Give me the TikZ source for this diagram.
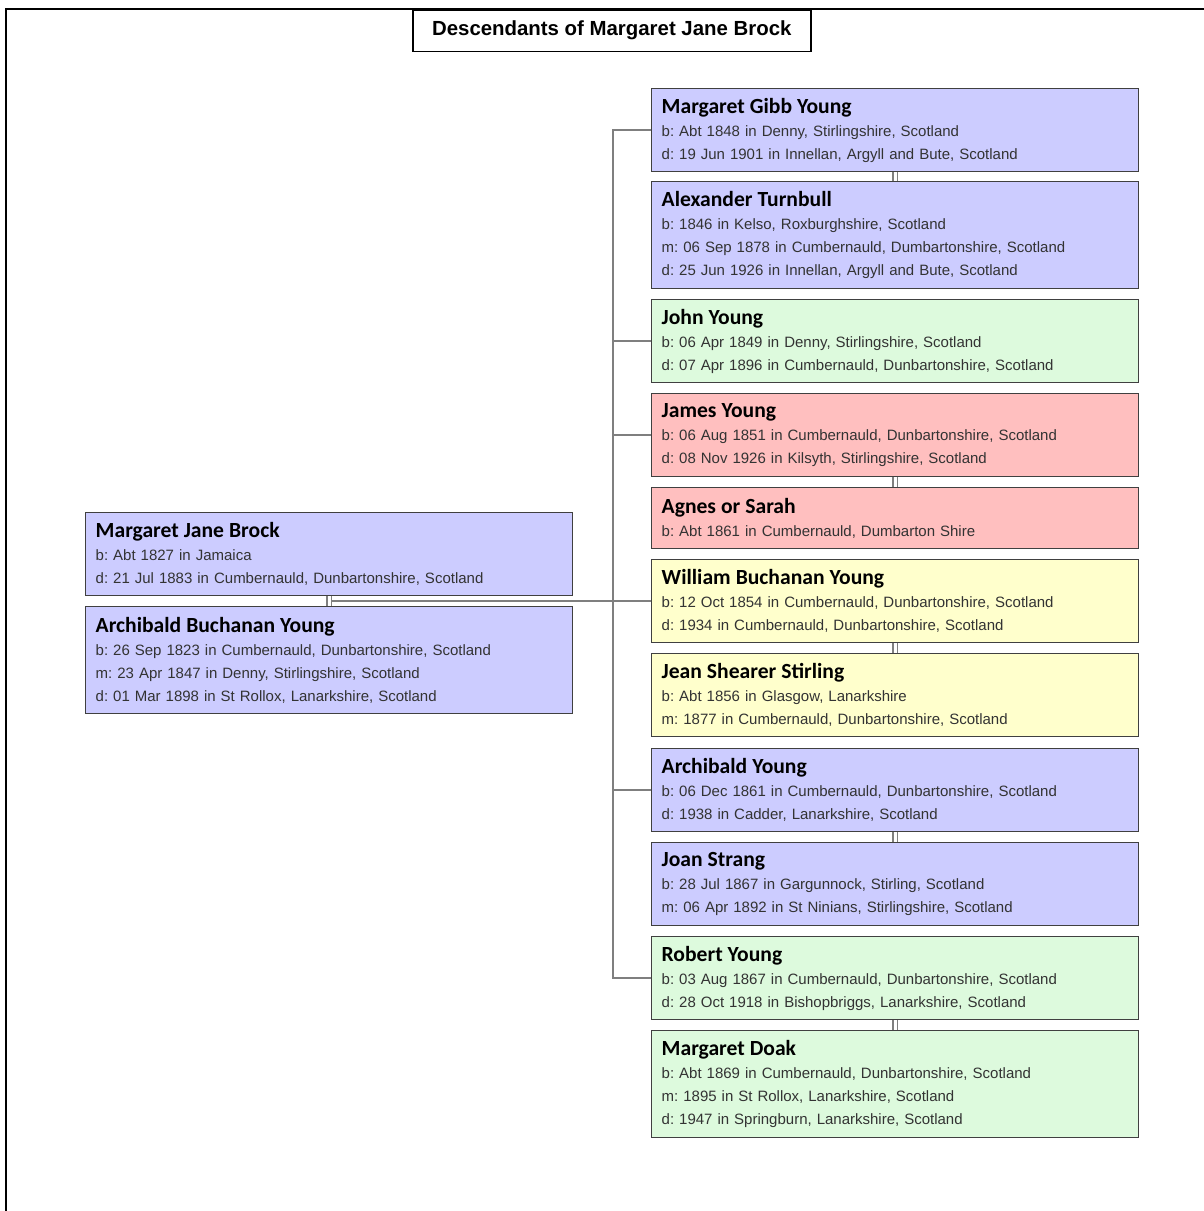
\documentclass[tikz,border=0pt]{standalone}
\usepackage{fontspec}
\setmainfont{Liberation Sans}
\newfontfamily\namefont{Carlito}
\usetikzlibrary{calc}
\definecolor{blu}{HTML}{CCCCFF}
\definecolor{grn}{HTML}{DDFADD}
\definecolor{pnk}{HTML}{FFBFBF}
\definecolor{yel}{HTML}{FFFFCC}
\definecolor{edge}{HTML}{404040}
\definecolor{link}{HTML}{7F7F7F}
\tikzset{
  person/.style={draw=edge, line width=0.7pt, fill=#1, anchor=north west, text width=233.5pt,
    inner xsep=5pt, inner ysep=0pt, align=left, font=\fontsize{7.5}{11.5}\selectfont\frenchspacing, text=black!80},
  lines1/.style={minimum height=30.5pt},
  lines2/.style={minimum height=41.5pt},
  lines3/.style={minimum height=53.5pt},
  branch/.style={draw=link, line width=0.9pt},
  spouse/.style={draw=link, double, double distance=1.6pt, line width=0.6pt}
}
\newcommand{\pname}[1]{{\namefont\bfseries\fontsize{10.8}{11.5}\selectfont\color{black}#1}}
\begin{document}
\begin{tikzpicture}[x=0.5pt,y=-0.5pt]
\useasboundingbox (0,0) rectangle (1204,1211);
\clip (0,0) rectangle (1204,1211);
\fill[white] (0,0) rectangle (1204,1211);
\draw[line width=1.1pt] (6,1240) |- (1240,9);
\node[draw, line width=0.8pt, fill=white, anchor=north west, minimum width=199pt, minimum height=20.8pt,
  font=\bfseries\fontsize{10.2}{12}\selectfont] (title) at (412,9) {Descendants of Margaret Jane Brock};

\node[person=blu, lines2] (mjb) at (85,512) {\pname{Margaret Jane Brock}\\b: Abt 1827 in Jamaica\\d: 21 Jul 1883 in Cumbernauld, Dunbartonshire, Scotland};
\node[person=blu, lines3] (aby) at (85,606) {\pname{Archibald Buchanan Young}\\b: 26 Sep 1823 in Cumbernauld, Dunbartonshire, Scotland\\m: 23 Apr 1847 in Denny, Stirlingshire, Scotland\\d: 01 Mar 1898 in St Rollox, Lanarkshire, Scotland};

\node[person=blu, lines2] (mgy) at (651,88) {\pname{Margaret Gibb Young}\\b: Abt 1848 in Denny, Stirlingshire, Scotland\\d: 19 Jun 1901 in Innellan, Argyll and Bute, Scotland};
\node[person=blu, lines3] (at) at (651,181) {\pname{Alexander Turnbull}\\b: 1846 in Kelso, Roxburghshire, Scotland\\m: 06 Sep 1878 in Cumbernauld, Dumbartonshire, Scotland\\d: 25 Jun 1926 in Innellan, Argyll and Bute, Scotland};
\node[person=grn, lines2] (jy) at (651,299) {\pname{John Young}\\b: 06 Apr 1849 in Denny, Stirlingshire, Scotland\\d: 07 Apr 1896 in Cumbernauld, Dunbartonshire, Scotland};
\node[person=pnk, lines2] (jmy) at (651,393) {\pname{James Young}\\b: 06 Aug 1851 in Cumbernauld, Dunbartonshire, Scotland\\d: 08 Nov 1926 in Kilsyth, Stirlingshire, Scotland};
\node[person=pnk, lines1] (aos) at (651,487) {\pname{Agnes or Sarah}\\b: Abt 1861 in Cumbernauld, Dumbarton Shire};
\node[person=yel, lines2] (wby) at (651,559) {\pname{William Buchanan Young}\\b: 12 Oct 1854 in Cumbernauld, Dunbartonshire, Scotland\\d: 1934 in Cumbernauld, Dunbartonshire, Scotland};
\node[person=yel, lines2] (jss) at (651,653) {\pname{Jean Shearer Stirling}\\b: Abt 1856 in Glasgow, Lanarkshire\\m: 1877 in Cumbernauld, Dunbartonshire, Scotland};
\node[person=blu, lines2] (ay) at (651,748) {\pname{Archibald Young}\\b: 06 Dec 1861 in Cumbernauld, Dunbartonshire, Scotland\\d: 1938 in Cadder, Lanarkshire, Scotland};
\node[person=blu, lines2] (js) at (651,842) {\pname{Joan Strang}\\b: 28 Jul 1867 in Gargunnock, Stirling, Scotland\\m: 06 Apr 1892 in St Ninians, Stirlingshire, Scotland};
\node[person=grn, lines2] (ry) at (651,936) {\pname{Robert Young}\\b: 03 Aug 1867 in Cumbernauld, Dunbartonshire, Scotland\\d: 28 Oct 1918 in Bishopbriggs, Lanarkshire, Scotland};
\node[person=grn, lines3] (md) at (651,1030) {\pname{Margaret Doak}\\b: Abt 1869 in Cumbernauld, Dunbartonshire, Scotland\\m: 1895 in St Rollox, Lanarkshire, Scotland\\d: 1947 in Springburn, Lanarkshire, Scotland};

\coordinate (cpl) at ($(mjb.south)!.5!(aby.north)$);
\coordinate (jn) at (613,601);
\draw[branch] (cpl) -- (wby.west);
\foreach \c in {mgy,jy,jmy,wby,ay,ry}
  \draw[branch] (jn) |- (\c.west);
\foreach \a/\b in {mjb/aby,mgy/at,jmy/aos,wby/jss,ay/js,ry/md}
  \draw[spouse] (\a.south) -- (\b.north);
\end{tikzpicture}
\end{document}
